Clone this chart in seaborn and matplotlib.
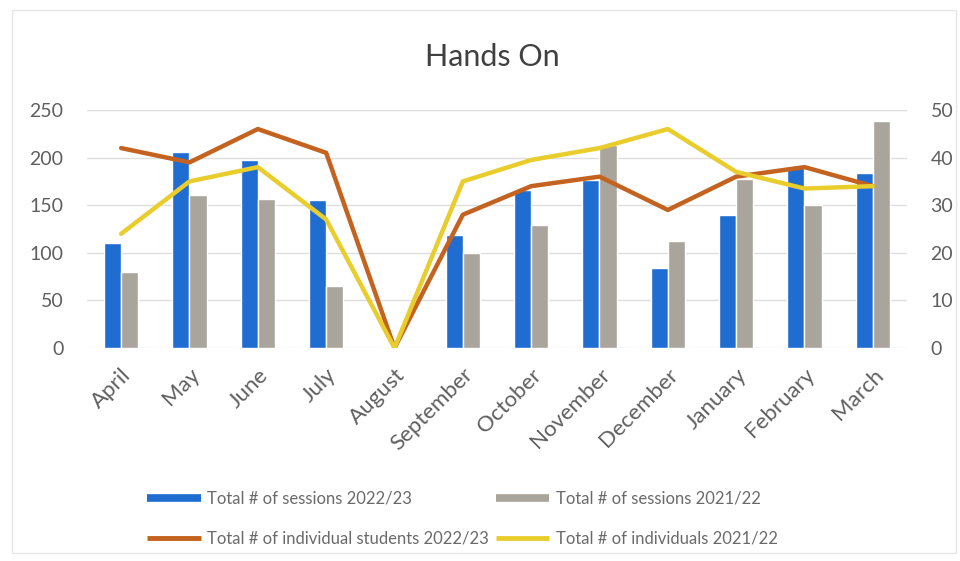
import matplotlib
matplotlib.use("Agg")
import matplotlib.pyplot as plt
from matplotlib.lines import Line2D
from matplotlib.patches import Rectangle
import numpy as np
import pandas as pd
import seaborn as sns

months = ["April", "May", "June", "July", "August", "September", "October",
          "November", "December", "January", "February", "March"]
sessions_2223 = [110, 206, 197, 155, 0, 119, 166, 176, 84, 140, 190, 184]
sessions_2122 = [80, 161, 157, 65, 0, 100, 129, 213, 112, 178, 150, 238]
students_2223 = [42, 39, 46, 41, 0, 28, 34, 36, 29, 36, 38, 34]
individuals_2122 = [24, 35, 38, 27, 0, 35, 39.5, 42, 46, 37, 33.5, 34]

labels = ["Total # of sessions 2022/23", "Total # of sessions 2021/22",
          "Total # of individual students 2022/23", "Total # of individuals 2021/22"]

c_blue = "#1f6dd0"
c_gray = "#a9a59c"
c_orange = "#c4621f"
c_yellow = "#e9cd2c"
txt = "#5f5f5f"
grid = "#dedede"

sns.set_theme(style="white")
plt.rcParams["font.family"] = ["Lato", "DejaVu Sans"]

bars = pd.DataFrame({
    "month": months * 2,
    "value": sessions_2223 + sessions_2122,
    "series": [labels[0]] * 12 + [labels[1]] * 12,
})

fig = plt.figure(figsize=(9.6, 5.61), dpi=100)
ax = fig.add_axes([87 / 960, 1 - 348 / 561, 820 / 960, 238 / 561])

sns.barplot(data=bars, x="month", y="value", hue="series", order=months,
            hue_order=labels[:2], palette=[c_blue, c_gray], width=0.5,
            gap=0, saturation=1, ax=ax, legend=False, zorder=2)
ax.set_ylim(0, 250)
ax.set_yticks(range(0, 251, 50))
ax.set_xlim(-0.5, 11.5)
ax.grid(axis="y", color=grid, linewidth=1, zorder=0)
ax.set_axisbelow(True)
for s in ax.spines.values():
    s.set_visible(False)
ax.set_xlabel("")
ax.set_ylabel("")
ax.tick_params(axis="y", length=0, labelsize=14, labelcolor=txt, pad=17)
ax.tick_params(axis="x", length=0, labelsize=16, labelcolor=txt, pad=12)
for t in ax.get_xticklabels():
    t.set_rotation(45)
    t.set_ha("right")
    t.set_rotation_mode("anchor")

ax2 = ax.twinx()
xpos = np.arange(len(months))
sns.lineplot(x=xpos, y=students_2223, color=c_orange, linewidth=3.2, ax=ax2, zorder=3)
sns.lineplot(x=xpos, y=individuals_2122, color=c_yellow, linewidth=3.2, ax=ax2, zorder=3)
ax2.set_ylim(0, 50)
ax2.set_yticks(range(0, 51, 10))
ax2.set_xlim(-0.5, 11.5)
for s in ax2.spines.values():
    s.set_visible(False)
ax2.tick_params(axis="y", length=0, labelsize=14, labelcolor=txt, pad=17)
ax2.grid(False)

fig.text(0.513, 1 - 57 / 561, "Hands On", ha="center", va="center",
         fontsize=22, color="#404040")

handles = [
    Line2D([], [], color=c_blue, linewidth=5.5, solid_capstyle="butt"),
    Line2D([], [], color=c_orange, linewidth=3.5, solid_capstyle="butt"),
    Line2D([], [], color=c_gray, linewidth=5.5, solid_capstyle="butt"),
    Line2D([], [], color=c_yellow, linewidth=3.5, solid_capstyle="butt"),
]
leg_labels = [labels[0], labels[2], labels[1], labels[3]]
fig.legend(handles, leg_labels, ncol=2, loc="upper left",
           bbox_to_anchor=(139 / 960, 1 - 482 / 561), frameon=False,
           fontsize=12, labelcolor="#6a6a6a", handlelength=3.2,
           handletextpad=0.4, columnspacing=0.4, labelspacing=1.45, borderpad=0)

fig.patches.append(Rectangle((12 / 960, 8 / 561), 944 / 960, 543 / 561,
                             transform=fig.transFigure, fill=False,
                             edgecolor="#e6e6e6", linewidth=1))

fig.savefig("out.png", dpi=100, facecolor="white")
